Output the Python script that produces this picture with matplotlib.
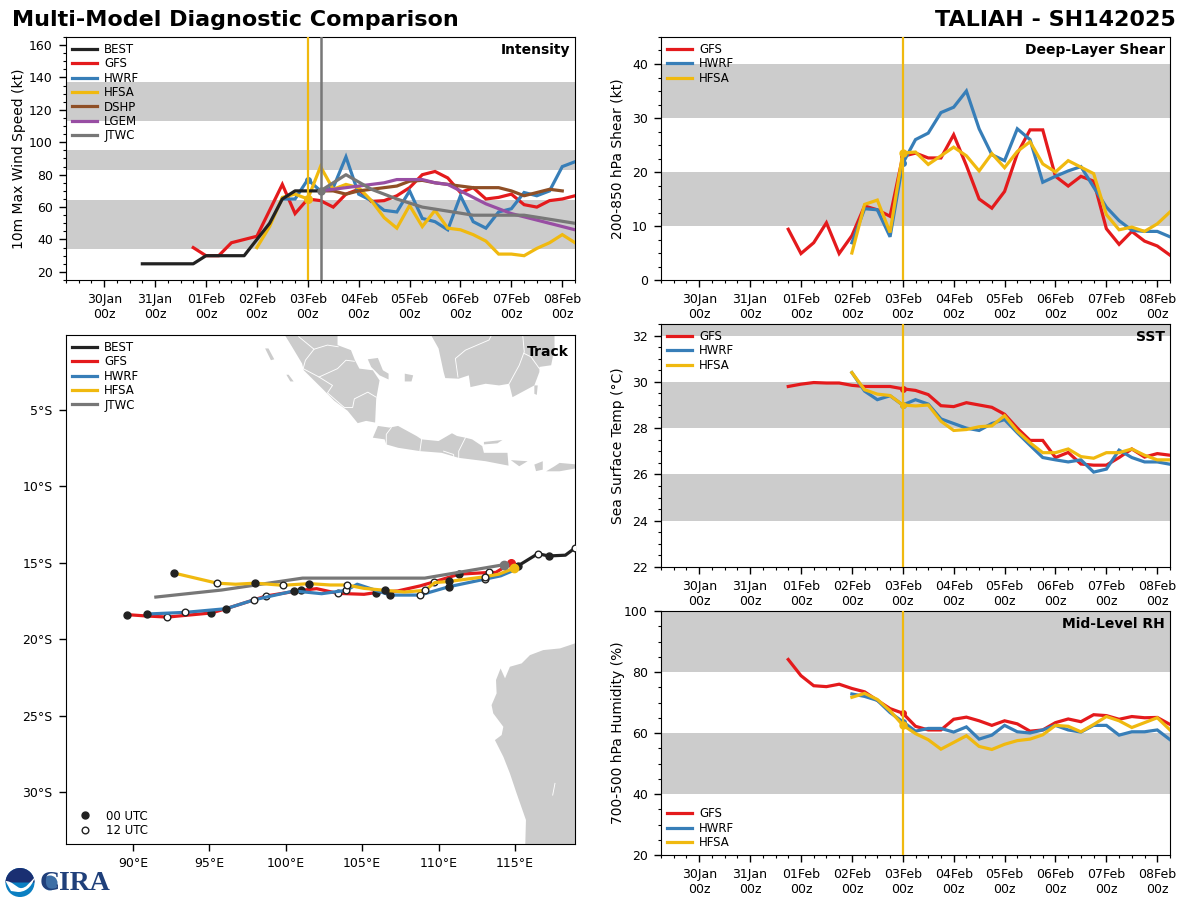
import numpy as np
import matplotlib
matplotlib.use("Agg")
import matplotlib.pyplot as plt
from matplotlib.lines import Line2D
from matplotlib.patches import Circle, Wedge, PathPatch, Polygon
from matplotlib.path import Path
from matplotlib.ticker import FuncFormatter, MultipleLocator

# ---------- time-series values, 6-hourly; step 0 = 03 Feb 00z ----------
day_labels = ["30Jan\n00z", "31Jan\n00z", "01Feb\n00z", "02Feb\n00z", "03Feb\n00z",
              "04Feb\n00z", "05Feb\n00z", "06Feb\n00z", "07Feb\n00z", "08Feb\n00z"]
day_hours = [-96, -72, -48, -24, 0, 24, 48, 72, 96, 120]

best_start = -13
best_int = [25, 25, 25, 25, 25, 30, 30, 30, 30, 40, 50, 65, 70, 70, 70]

int_gfs_start = -9
int_gfs = [35, 30, 30, 38, 40, 42, 58, 74, 56, 65, 64, 60, 68, 71, 63.5, 64, 67, 72, 80, 82,
           78, 69, 72, 65, 66, 68, 61.5, 60, 64, 65, 67]
int_hwrf_start = -2
int_hwrf = [65, 65, 77, 70, 72, 91, 68, 64, 58, 57, 70, 53, 51, 46, 67, 51, 47, 57, 59, 69,
            67, 70, 85, 88]
int_hfsa_start = -4
int_hfsa = [35, 48, 66, 68, 65, 85, 71, 74, 72, 64, 53.5, 47, 61, 48, 58, 47, 46, 43, 39, 31,
            31, 30, 34.5, 38, 43, 38]
int_dshp_start = 1
int_dshp = [70, 70, 68, 70, 71, 72, 73, 76, 76.5, 75, 74, 73, 72, 72, 72, 70, 67, 69, 71, 70]
int_lgem_start = 1
int_lgem = [70, 71, 72, 73, 74, 75, 77, 77, 77, 75, 74, 70, 66, 62, 59, 56, 54, 52, 50, 48, 46]
int_jtwc_hours = [6, 18, 30, 42, 54, 78, 102, 126]
int_jtwc = [70, 80, 71, 65, 60, 55, 55, 50]

shr_gfs_start = -9
shr_gfs = [9.4, 4.9, 6.9, 10.6, 4.9, 8.2, 13.7, 13, 11.8, 22.9, 23.5, 22.6, 22.6, 26.9, 21.2,
           15, 13.3, 16.4, 23.4, 27.8, 27.8, 19.2, 17.4, 19.2, 18.3, 9.5, 6.6, 9, 7.2, 6.3, 4.6]
shr_hwrf_start = -4
shr_hwrf = [6.9, 13.2, 13, 8, 21.6, 26, 27.2, 31, 32, 35, 28, 23.2, 22.1, 28, 26, 18.1, 19.2,
            20.2, 21, 17.2, 13.5, 11, 9.2, 9, 9, 8]
shr_hfsa_start = -4
shr_hfsa = [5, 14, 14.8, 8.8, 23.5, 23.7, 21.4, 23, 24.6, 23, 20.2, 23.4, 20.8, 23.8, 25.6,
            21.5, 20, 22.1, 20.9, 19.7, 12.1, 9.3, 9.8, 9, 10.4, 12.6]

sst_gfs_start = -9
sst_gfs = [29.8, 29.9, 29.97, 29.95, 29.95, 29.85, 29.8, 29.8, 29.8, 29.7, 29.63, 29.45, 28.97,
           28.93, 29.1, 29, 28.9, 28.6, 28, 27.47, 27.47, 26.73, 26.95, 26.45, 26.4, 26.4,
           26.73, 27.1, 26.75, 26.9, 26.83]
sst_hwrf_start = -4
sst_hwrf = [30.4, 29.6, 29.23, 29.4, 29, 29.23, 29.04, 28.4, 28.2, 28, 27.9, 28.2, 28.37, 27.8,
            27.26, 26.73, 26.63, 26.54, 26.63, 26.1, 26.23, 27.05, 26.73, 26.54, 26.54, 26.44]
sst_hfsa_start = -4
sst_hfsa = [30.4, 29.66, 29.47, 29.41, 29, 28.96, 29, 28.3, 27.9, 27.94, 28.06, 28.1, 28.54,
            27.87, 27.37, 26.94, 26.94, 27.1, 26.77, 26.7, 26.94, 26.94, 27.1, 26.83, 26.63, 26.63]

rh_gfs_start = -9
rh_gfs = [84.1, 78.8, 75.5, 75.2, 76, 74.6, 73.5, 70.7, 68, 66.5, 62.2, 61, 61, 64.5, 65.2, 64,
          62.5, 64, 63, 60.6, 61, 63.4, 64.6, 63.7, 66, 65.7, 64.5, 65.4, 65, 65.1, 62.8]
rh_hwrf_start = -4
rh_hwrf = [72.8, 72, 70.7, 66.7, 63.7, 60.6, 61.5, 61.5, 60.3, 62, 58, 59.3, 62.5, 60.4, 60, 61,
           62.5, 61, 60.3, 62.5, 62.5, 59.3, 60.4, 60.4, 61, 57.8]
rh_hfsa_start = -4
rh_hfsa = [71.7, 73, 71, 67.3, 62.6, 59.8, 57.8, 54.7, 56.9, 59.1, 55.6, 54.6, 56.3, 57.5, 58,
           59.4, 62.5, 62.2, 60.4, 62.8, 65.4, 64, 61.8, 63.4, 65, 61]

# ---------- track values ----------
best_lon = [118.93, 118.3, 117.2, 116.5, 115.2]
best_lat = [-14.03, -14.5, -14.55, -14.4, -15.2]
best_utc = ["w", "", "b", "w", "b"]

gfs_lon = [114.74, 113.74, 113.3, 111.35, 109.69, 108.79, 107.33, 105.89, 105.12, 103.42, 102.02,
           101.01, 98.71, 97.93, 96.1, 95.13, 92.25, 90.92, 89.62]
gfs_lat = [-15.03, -15.63, -15.63, -15.74, -16.25, -16.51, -16.84, -16.95, -17.06, -17.0, -16.69,
           -16.8, -17.17, -17.42, -18.0, -18.28, -18.55, -18.48, -18.39]
gfs_utc = ["", "", "w", "b", "w", "", "", "b", "", "w", "", "b", "w", "", "", "b", "w", "", "b"]

hwrf_lon = [114.85, 114.07, 113.03, 110.69, 108.79, 106.84, 104.68, 103.95, 102.35, 100.54, 97.93,
            96.1, 93.44, 90.92]
hwrf_lat = [-15.52, -15.85, -16.07, -16.56, -17.11, -17.11, -16.4, -16.8, -17.02, -16.84, -17.42,
            -18.0, -18.24, -18.35]
hwrf_utc = ["", "", "w", "b", "w", "b", "", "w", "", "b", "w", "b", "w", "b"]

hfsa_lon = [114.96, 113.96, 113.03, 110.69, 109.76, 109.12, 107.77, 106.51, 105.12, 104.01, 102.91,
            101.54, 99.81, 98.0, 96.72, 95.5, 92.69]
hfsa_lat = [-15.34, -15.74, -15.91, -16.22, -16.29, -16.8, -16.91, -16.8, -16.67, -16.45, -16.45,
            -16.36, -16.47, -16.33, -16.4, -16.33, -15.67]
hfsa_utc = ["", "", "w", "b", "", "w", "", "b", "", "w", "", "b", "w", "b", "", "w", "b"]

jtwc_lon = [114.29, 109.1, 101.1, 95.8, 91.5]
jtwc_lat = [-15.12, -16.0, -16.0, -16.78, -17.24]

# ---------- land outlines (lon, lat) ----------
land = [
    [(99.7, 0.3), (100.41, -0.86), (101.07, -1.96), (101.18, -2.4), (102.4, -3.61), (103.17, -4.39),
     (104.05, -5.05), (104.71, -5.86), (105.26, -5.71), (105.85, -5.82), (105.92, -4.27), (106.14, -3.06),
     (105.7, -2.4), (104.82, -2.29), (104.53, -1.74), (104.27, -1.08), (103.39, -0.75), (103.39, 0.3)],
    [(105.7, -6.81), (106.03, -6.04), (106.8, -6.15), (107.35, -6.04), (108.56, -6.7), (108.89, -6.92),
     (110.0, -7.03), (110.88, -6.52), (111.21, -6.7), (111.76, -6.81), (112.2, -6.92), (112.86, -7.36),
     (112.97, -7.8), (114.51, -7.8), (114.58, -8.64), (113.08, -8.35), (111.32, -8.13), (110.2, -7.8),
     (108.78, -7.69), (107.35, -7.47), (106.58, -7.25), (106.47, -6.92)],
    [(112.97, -7.09), (114.18, -6.96), (113.85, -7.18), (112.97, -7.25)],
    [(114.73, -8.28), (115.83, -8.35), (115.28, -8.68)],
    [(116.27, -8.57), (116.82, -8.35), (116.82, -8.9), (116.38, -9.0)],
    [(117.04, -9.01), (117.59, -8.68), (117.92, -8.46), (119.14, -8.57), (119.14, -8.79), (117.92, -9.01)],
    [(109.29, 0.3), (110.0, -0.97), (110.33, -2.51), (110.44, -2.91), (111.32, -2.95), (111.98, -2.73),
     (112.09, -3.5), (113.08, -3.28), (113.96, -3.39), (114.62, -3.28), (114.84, -4.16), (116.27, -3.39),
     (116.6, -2.51), (116.6, -2.18), (117.37, -2.07), (117.59, -0.97), (117.59, 0.3)],
    [(116.27, -3.39), (116.49, -3.39), (116.43, -4.01), (116.27, -3.94)],
    [(119.07, -2.62), (119.3, -2.62), (119.3, -3.06), (119.07, -2.95)],
    [(105.37, -1.68), (106.03, -1.59), (106.36, -2.4), (106.73, -2.62), (106.73, -3.0), (106.14, -2.73), (105.59, -2.18)],
    [(107.79, -2.62), (108.34, -2.73), (108.23, -3.13), (107.79, -3.13)],
    [(98.65, -0.97), (98.87, -0.97), (99.25, -1.68), (99.03, -1.74)],
    [(100.04, -2.69), (100.19, -2.69), (100.52, -3.13), (100.3, -3.13)],
    [(119.5, -20.1), (118.93, -20.27), (117.95, -20.6), (116.85, -20.71), (115.98, -21.04), (115.44, -21.58),
     (114.67, -21.8), (114.35, -22.56), (114.06, -21.91), (113.76, -22.67), (113.8, -23.54), (113.47, -24.31),
     (113.58, -24.85), (114.24, -25.73), (114.13, -26.27), (113.69, -26.6), (114.24, -27.69), (114.67, -28.78),
     (115.11, -30.09), (115.72, -31.83), (115.66, -34.0), (119.5, -34.0)],
]
borders = [
    [(100.85, -0.2), (101.85, -1.02), (102.73, -0.75), (103.43, -0.86)],
    [(101.85, -1.02), (101.29, -1.74), (101.14, -2.29), (102.18, -2.84), (103.39, -2.29), (103.94, -1.74), (104.49, -1.81)],
    [(102.18, -2.84), (103.06, -3.39), (102.73, -3.88), (103.83, -4.83), (104.38, -4.83), (104.49, -4.27), (105.37, -3.83), (105.92, -4.16)],
    [(106.91, -6.15), (106.58, -6.59), (106.58, -7.25)],
    [(108.89, -6.92), (108.78, -7.69)],
    [(111.76, -6.81), (111.32, -7.69), (111.32, -8.13)],
    [(110.33, -7.69), (110.99, -7.91), (110.99, -8.1)],
    [(113.52, 0.0), (113.3, -0.42), (111.76, -1.08), (111.1, -1.63), (111.27, -2.84)],
    [(115.5, 0.0), (115.61, -1.19), (115.28, -2.07), (114.62, -3.28)],
    [(115.61, -1.3), (116.05, -1.52), (116.6, -2.29)],
    [(113.58, -25.66), (113.84, -26.38)],
    [(117.62, -29.43), (117.47, -30.2)],
]

# ---------- style ----------
C = {"BEST": "#222222", "GFS": "#e41a1c", "HWRF": "#377eb8", "HFSA": "#f0b90f",
     "DSHP": "#8f4f26", "LGEM": "#984ea3", "JTWC": "#777777"}
LW = 2.3
BAND = "#cccccc"
plt.rcParams["font.family"] = "DejaVu Sans"
plt.rcParams["font.size"] = 9

W, H = 1200.0, 900.0
fig = plt.figure(figsize=(12, 9), dpi=100)


def add_ax(l, r, t, b):
    return fig.add_axes([l / W, 1 - b / H, (r - l) / W, (b - t) / H])


def steps(start, vals):
    return 6 * (start + np.arange(len(vals)))


def setup_time(ax, ylim, bands, major, minor, ylabel, title, label_x):
    for lo, hi in bands:
        ax.axhspan(lo, hi, color=BAND, lw=0, zorder=0)
    ax.set_xlim(-114, 126)
    ax.set_ylim(*ylim)
    ax.set_xticks(day_hours)
    ax.set_xticklabels(day_labels)
    ax.xaxis.set_minor_locator(MultipleLocator(6))
    ax.yaxis.set_major_locator(MultipleLocator(major))
    ax.yaxis.set_minor_locator(MultipleLocator(minor))
    ax.tick_params(which="major", length=5, width=1, labelsize=9, pad=4.5)
    ax.tick_params(which="minor", length=2.5, width=0.8)
    ax.set_ylabel(ylabel, fontsize=10)
    ax.yaxis.set_label_coords(label_x, 0.5)
    ax.text(0.99, 0.975, title, transform=ax.transAxes, ha="right", va="top",
            fontsize=10, fontweight="bold", zorder=10)


def series(ax, name, start, vals, marker_h=0):
    x = steps(start, vals)
    ax.plot(x, vals, color=C[name], lw=LW, label=name, solid_joinstyle="miter", zorder=3)
    y = vals[list(x).index(marker_h)]
    ax.plot([marker_h], [y], "o", color=C[name], ms=4, zorder=3)


def legend(ax, loc="upper left"):
    return ax.legend(loc=loc, frameon=False, fontsize=8.5, handlelength=2.15, handletextpad=0.6,
                     labelspacing=0.12, borderaxespad=0.2, borderpad=0.3)


LEFT_X, RIGHT_X = -0.0786, -0.0708

# ---------- intensity ----------
ax1 = add_ax(66, 575, 37, 280)
setup_time(ax1, (15, 165), [(34, 64.5), (83, 95.5), (113, 137.5)], 20, 5,
           "10m Max Wind Speed (kt)", "Intensity", LEFT_X)
ax1.plot(steps(best_start, best_int), best_int, color=C["BEST"], lw=LW, label="BEST", zorder=4)
series(ax1, "GFS", int_gfs_start, int_gfs)
series(ax1, "HWRF", int_hwrf_start, int_hwrf)
series(ax1, "HFSA", int_hfsa_start, int_hfsa)
ax1.plot(steps(int_dshp_start, int_dshp), int_dshp, color=C["DSHP"], lw=LW, label="DSHP", zorder=3)
ax1.plot(steps(int_lgem_start, int_lgem), int_lgem, color=C["LGEM"], lw=LW, label="LGEM", zorder=3)
ax1.plot(int_jtwc_hours, int_jtwc, color=C["JTWC"], lw=LW, label="JTWC", zorder=3)
ax1.plot([6], [70], "o", color=C["JTWC"], ms=5, zorder=5)
ax1.axvline(0, color=C["HFSA"], lw=1.6, zorder=4)
ax1.axvline(6, color=C["JTWC"], lw=1.8, zorder=4)
ax1.plot([0], [65], "o", color=C["HFSA"], ms=5.5, zorder=5)
legend(ax1)

# ---------- shear ----------
ax2 = add_ax(661, 1170, 37, 280)
setup_time(ax2, (0, 45), [(10, 20), (30, 40)], 10, 2.5, "200-850 hPa Shear (kt)", "Deep-Layer Shear", RIGHT_X)
series(ax2, "GFS", shr_gfs_start, shr_gfs)
series(ax2, "HWRF", shr_hwrf_start, shr_hwrf)
series(ax2, "HFSA", shr_hfsa_start, shr_hfsa)
ax2.axvline(0, color=C["HFSA"], lw=1.6, zorder=4)
ax2.plot([0], [23.5], "o", color=C["HFSA"], ms=5, zorder=5)
legend(ax2)

# ---------- SST ----------
ax3 = add_ax(661, 1170, 324, 567)
setup_time(ax3, (22, 32.5), [(24, 26), (28, 30), (32, 34)], 2, 0.5, "Sea Surface Temp (°C)", "SST", RIGHT_X)
series(ax3, "GFS", sst_gfs_start, sst_gfs)
series(ax3, "HWRF", sst_hwrf_start, sst_hwrf)
series(ax3, "HFSA", sst_hfsa_start, sst_hfsa)
ax3.axvline(0, color=C["HFSA"], lw=1.6, zorder=4)
legend(ax3)

# ---------- RH ----------
ax4 = add_ax(661, 1170, 611, 855)
setup_time(ax4, (20, 100), [(40, 60), (80, 100)], 20, 5, "700-500 hPa Humidity (%)", "Mid-Level RH", RIGHT_X)
series(ax4, "GFS", rh_gfs_start, rh_gfs)
series(ax4, "HWRF", rh_hwrf_start, rh_hwrf)
series(ax4, "HFSA", rh_hfsa_start, rh_hfsa)
ax4.axvline(0, color=C["HFSA"], lw=1.6, zorder=4)
ax4.plot([0], [62.6], "o", color=C["HFSA"], ms=5, zorder=5)
legend(ax4, "lower left")

# ---------- track ----------
ax5 = add_ax(66, 575, 335, 844)
ax5.set_xlim(85.62, 118.93)
ax5.set_ylim(-33.4, -0.09)
for poly in land:
    ax5.add_patch(Polygon(poly, closed=True, fc=BAND, ec="none", zorder=1))
for line in borders:
    xs, ys = zip(*line)
    ax5.plot(xs, ys, color="white", lw=0.65, zorder=1.5)
ax5.set_xticks([90, 95, 100, 105, 110, 115])
ax5.set_yticks([-5, -10, -15, -20, -25, -30])
ax5.xaxis.set_major_formatter(FuncFormatter(lambda v, p: f"{v:.0f}°E"))
ax5.yaxis.set_major_formatter(FuncFormatter(lambda v, p: f"{abs(v):.0f}°S"))
ax5.tick_params(length=5, width=1, labelsize=9, pad=4.5)
ax5.text(0.988, 0.98, "Track", transform=ax5.transAxes, ha="right", va="top",
         fontsize=10, fontweight="bold", zorder=10)


def track(name, lon, lat, utc, z):
    ax5.plot(lon, lat, color=C[name], lw=LW, label=name, zorder=z)
    for a, b, u in zip(lon, lat, utc):
        if u == "b":
            ax5.plot([a], [b], "o", color=C["BEST"], ms=5, zorder=z + 0.1)
        elif u == "w":
            ax5.plot([a], [b], "o", mfc="white", mec=C["BEST"], mew=1.0, ms=4.8, zorder=z + 0.1)


track("BEST", best_lon, best_lat, best_utc, 3)
track("GFS", gfs_lon, gfs_lat, gfs_utc, 3.2)
track("HWRF", hwrf_lon, hwrf_lat, hwrf_utc, 3.4)
track("HFSA", hfsa_lon, hfsa_lat, hfsa_utc, 3.6)
ax5.plot(jtwc_lon, jtwc_lat, color=C["JTWC"], lw=LW, label="JTWC", zorder=3.55)
ax5.plot(jtwc_lon[0], jtwc_lat[0], "o", color=C["JTWC"], ms=6, zorder=4)
ax5.plot(hfsa_lon[0], hfsa_lat[0], "o", color=C["HFSA"], ms=6, zorder=4)
ax5.plot(gfs_lon[0], gfs_lat[0], "o", color=C["GFS"], ms=5.5, zorder=3.3)
leg5 = legend(ax5)
ax5.add_artist(leg5)
h = [Line2D([], [], ls="", marker="o", color=C["BEST"], ms=5),
     Line2D([], [], ls="", marker="o", mfc="white", mec=C["BEST"], ms=4.8)]
ax5.legend(h, ["00 UTC", "12 UTC"], loc="lower left", frameon=False, fontsize=8.5,
           labelspacing=0.12, borderaxespad=0.2, handletextpad=0.75, handlelength=2.0)

# ---------- titles ----------
fig.text(12 / W, 1 - 20.5 / H, "Multi-Model Diagnostic Comparison", fontsize=16, fontweight="bold",
         ha="left", va="center")
fig.text(1176 / W, 1 - 20.5 / H, "TALIAH - SH142025", fontsize=16, fontweight="bold",
         ha="right", va="center")

# ---------- logos ----------
lg = fig.add_axes([0, 0, 120 / W, 36 / H])
lg.set_xlim(0, 120)
lg.set_ylim(36, 0)
lg.axis("off")
lg.add_patch(Circle((20, 18.5), 14.5, fc="#0a7fc2", ec="none"))
lg.add_patch(Wedge((20, 18.5), 14.5, 180, 360, fc="#1a2f72", ec="none"))
wave = Path([(5.5, 17), (12, 17), (16, 23), (20, 24), (26, 25), (30, 18), (35, 13), (31, 25), (24, 28), (18, 28),
             (11, 27), (5.5, 17)],
            [Path.MOVETO] + [Path.CURVE4] * 9 + [Path.LINETO] * 2)
lg.add_patch(PathPatch(wave, fc="white", ec="none"))
lg.add_patch(Circle((50, 19), 7.5, fc="#3d6ea5", ec="none"))
lg.text(75, 19, "CIRA", fontsize=20, fontweight="bold", family="Liberation Serif", color="#1f3f7a",
        ha="center", va="center")

fig.savefig("out.png", dpi=100)
